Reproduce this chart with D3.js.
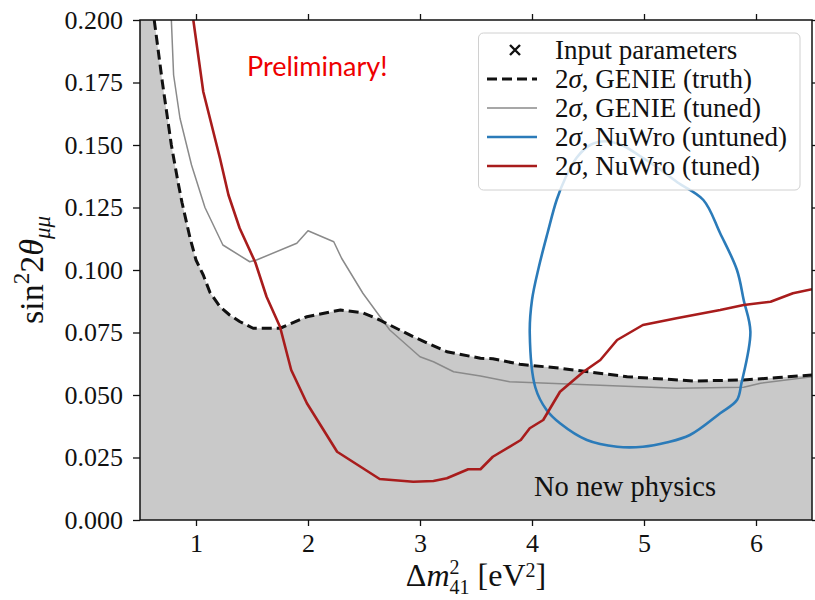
<!DOCTYPE html>
<html>
<head>
<meta charset="utf-8">
<script src="https://cdn.jsdelivr.net/npm/d3@7"></script>
<style>
  body { margin: 0; background: #fff; }
  svg text { font-family: "Liberation Serif", "DejaVu Serif", serif; fill: #111; }
</style>
</head>
<body>
<svg id="chart" width="815" height="600"></svg>
<script>
// Tick values
const xTicks = [1, 2, 3, 4, 5, 6];
const yTicks = [0, 0.025, 0.05, 0.075, 0.1, 0.125, 0.15, 0.175, 0.2];

// 2 sigma contours: [dm2_41 (eV^2), sin^2 2theta_mumu]
const genieTruth = [
  [0.627, 0.200], [0.70, 0.175], [0.78, 0.150], [0.84, 0.135], [0.875, 0.127],
  [0.946, 0.113], [1.00, 0.104], [1.065, 0.098], [1.125, 0.091], [1.214, 0.0853],
  [1.30, 0.082], [1.393, 0.0793], [1.51, 0.0767], [1.75, 0.0767], [1.99, 0.0813],
  [2.29, 0.084], [2.49, 0.0829], [2.64, 0.080], [2.94, 0.0733], [3.24, 0.0673],
  [3.54, 0.0647], [3.65, 0.0645], [3.89, 0.0623], [4.25, 0.0607], [4.85, 0.0573],
  [5.44, 0.0556], [5.89, 0.056], [6.20, 0.057], [6.50, 0.058]
];

const genieTuned = [
  [0.78, 0.200], [0.80, 0.178], [0.857, 0.1607], [0.96, 0.142], [1.08, 0.125],
  [1.24, 0.110], [1.48, 0.1033], [1.54, 0.104], [1.90, 0.1107], [2.00, 0.1157],
  [2.23, 0.1113], [2.30, 0.1047], [2.49, 0.0907], [2.73, 0.076], [3.00, 0.0653],
  [3.12, 0.0633], [3.30, 0.0593], [3.54, 0.0576], [3.80, 0.0553], [4.55, 0.054],
  [5.29, 0.0527], [5.89, 0.0531], [6.04, 0.0547], [6.50, 0.0573]
];

const nuwroUntuned = [
  [4.03, 0.053], [3.98, 0.0747], [4.00, 0.088], [4.06, 0.101], [4.14, 0.115],
  [4.22, 0.128], [4.30, 0.137], [4.40, 0.145], [4.52, 0.150], [4.65, 0.1515],
  [4.80, 0.150], [4.95, 0.146], [5.12, 0.141], [5.30, 0.135], [5.53, 0.128],
  [5.68, 0.1147], [5.83, 0.100], [5.89, 0.088], [5.95, 0.0753], [5.87, 0.0547],
  [5.83, 0.048], [5.68, 0.0427], [5.41, 0.034], [5.20, 0.031], [4.99, 0.0293],
  [4.76, 0.0293], [4.49, 0.032], [4.25, 0.0387], [4.13, 0.044]
];

const nuwroTuned = [
  [0.976, 0.200], [1.065, 0.1713], [1.214, 0.1447], [1.29, 0.130], [1.39, 0.1167],
  [1.53, 0.1030], [1.63, 0.0893], [1.75, 0.0773], [1.85, 0.060], [1.99, 0.0467],
  [2.26, 0.0273], [2.64, 0.0164], [2.94, 0.0153], [3.12, 0.0156], [3.24, 0.0167],
  [3.43, 0.0203], [3.54, 0.0203], [3.65, 0.0253], [3.90, 0.032], [3.98, 0.0367],
  [4.10, 0.040], [4.25, 0.0513], [4.46, 0.0593], [4.61, 0.064], [4.76, 0.072],
  [4.99, 0.078], [5.29, 0.0807], [5.68, 0.084], [5.89, 0.086], [6.13, 0.0873],
  [6.33, 0.0907], [6.50, 0.0923]
];

const legendEntries = [
  { kind: "marker", prefix: "", label: "Input parameters" },
  { kind: "dash",   prefix: "2σ", label: ", GENIE (truth)" },
  { kind: "grey",   prefix: "2σ", label: ", GENIE (tuned)" },
  { kind: "blue",   prefix: "2σ", label: ", NuWro (untuned)" },
  { kind: "red",    prefix: "2σ", label: ", NuWro (tuned)" }
];

const styles = {
  dash: { stroke: "#111", width: 3, dash: "10,5" },
  grey: { stroke: "#8a8a8a", width: 1.5, dash: null },
  blue: { stroke: "#2b7bb9", width: 2.6, dash: null },
  red:  { stroke: "#a81c1c", width: 2.6, dash: null }
};

const serif = "Liberation Serif";
const svg = d3.select("#chart");
const L = 140, R = 812, T = 20, B = 520;
const x = d3.scaleLinear().domain([0.5, 6.5]).range([L, R]);
const y = d3.scaleLinear().domain([0, 0.2]).range([B, T]);

svg.append("defs").append("clipPath").attr("id", "plotclip")
  .append("rect").attr("x", L).attr("y", T).attr("width", R - L).attr("height", B - T);

const plot = svg.append("g").attr("clip-path", "url(#plotclip)");

// Shaded band under the GENIE truth contour
const shaded = [[0.5, 0.2], ...genieTruth];
const area = d3.area().x(d => x(d[0])).y0(y(0)).y1(d => y(d[1]));
plot.append("path").datum(shaded).attr("d", area).attr("fill", "#c9c9c9");

const line = d3.line().x(d => x(d[0])).y(d => y(d[1]));

function drawLine(data, st, curve) {
  plot.append("path").datum(data)
    .attr("d", line.curve(curve)(data))
    .attr("fill", "none")
    .attr("stroke", st.stroke)
    .attr("stroke-width", st.width)
    .attr("stroke-dasharray", st.dash)
    .attr("stroke-linejoin", "round");
}

drawLine(genieTuned, styles.grey, d3.curveLinear);
drawLine(genieTruth, styles.dash, d3.curveLinear);
drawLine(nuwroUntuned, styles.blue, d3.curveCatmullRomClosed);
drawLine(nuwroTuned, styles.red, d3.curveLinear);

// Axes with outward ticks on all four sides
const tickFont = 26;
const axes = [
  svg.append("g").attr("transform", `translate(0,${B})`)
    .call(d3.axisBottom(x).tickValues(xTicks).tickSize(6).tickPadding(8).tickFormat(d3.format("d"))),
  svg.append("g").attr("transform", `translate(0,${T})`)
    .call(d3.axisTop(x).tickValues(xTicks).tickSize(6).tickFormat("")),
  svg.append("g").attr("transform", `translate(${L},0)`)
    .call(d3.axisLeft(y).tickValues(yTicks).tickSize(7).tickPadding(10).tickFormat(d3.format(".3f"))),
  svg.append("g").attr("transform", `translate(${R},0)`)
    .call(d3.axisRight(y).tickValues(yTicks).tickSize(6).tickFormat(""))
];
axes.forEach(g => g.attr("font-family", serif).attr("font-size", tickFont));

svg.selectAll(".domain").remove();
svg.selectAll(".tick line").attr("stroke", "#111").attr("stroke-width", 1.3);
svg.selectAll(".tick text")
  .attr("font-family", serif)
  .style("font-family", serif)
  .style("font-size", tickFont + "px").style("fill", "#111");

svg.append("rect").attr("x", L).attr("y", T).attr("width", R - L).attr("height", B - T)
  .attr("fill", "none").attr("stroke", "#111").attr("stroke-width", 1.5);

// Annotation inside the shaded band
svg.append("text").attr("x", 625).attr("y", 496).attr("text-anchor", "middle")
  .style("font-size", "28.5px").text("No new physics");

svg.append("text").attr("x", 247).attr("y", 76)
  .style("font-family", "Lato, 'Open Sans', sans-serif")
  .style("font-size", "27px").style("fill", "#ee0000").text("Preliminary!");

// Axis labels
const xl = svg.append("text").attr("x", 476).attr("y", 586).attr("text-anchor", "middle")
  .style("font-size", "32px");
xl.append("tspan").text("Δ");
xl.append("tspan").attr("font-style", "italic").text("m");
xl.append("tspan").style("font-size", "20px").attr("dy", -12).text("2");
xl.append("tspan").style("font-size", "20px").attr("dx", -10).attr("dy", 20).text("41");
xl.append("tspan").attr("dy", -8).text(" [eV");
xl.append("tspan").style("font-size", "20px").attr("dy", -9).text("2");
xl.append("tspan").attr("dy", 9).text("]");

const yl = svg.append("text").attr("transform", "translate(43,270) rotate(-90)")
  .attr("text-anchor", "middle").style("font-size", "34px");
yl.append("tspan").text("sin");
yl.append("tspan").style("font-size", "23px").attr("dy", -14).text("2");
yl.append("tspan").attr("dy", 14).text("2");
yl.append("tspan").attr("font-style", "italic").text("θ");
yl.append("tspan").style("font-size", "23px").attr("font-style", "italic").attr("dy", 7).text("μμ");

// Legend
const lg = svg.append("g");
lg.append("rect").attr("x", 478.5).attr("y", 33).attr("width", 321.5).attr("height", 157)
  .attr("rx", 5).attr("fill", "#fff").attr("fill-opacity", 0.82)
  .attr("stroke", "#d0d0d0").attr("stroke-width", 1);

const rowY = d3.scaleLinear().domain([0, 4]).range([50, 166]);
legendEntries.forEach((e, i) => {
  const cy = rowY(i);
  if (e.kind === "marker") {
    const s = 5;
    lg.append("path")
      .attr("d", `M${515 - s},${cy - s}L${515 + s},${cy + s}M${515 - s},${cy + s}L${515 + s},${cy - s}`)
      .attr("stroke", "#111").attr("stroke-width", 2.4);
  } else {
    const st = styles[e.kind];
    lg.append("line").attr("x1", 487).attr("x2", 537).attr("y1", cy).attr("y2", cy)
      .attr("stroke", st.stroke).attr("stroke-width", st.width)
      .attr("stroke-dasharray", st.dash);
  }
  const t = lg.append("text").attr("x", 555).attr("y", cy).attr("dy", "0.33em")
    .style("font-size", "27px");
  if (e.prefix) {
    t.append("tspan").text("2");
    t.append("tspan").attr("font-style", "italic").text("σ");
  }
  t.append("tspan").text(e.label);
});
</script>
</body>
</html>
